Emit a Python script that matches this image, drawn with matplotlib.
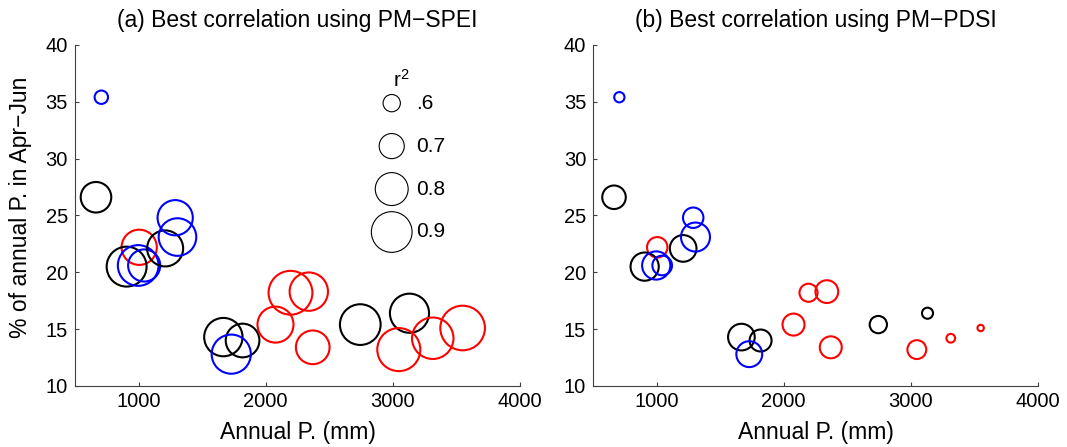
import numpy as np
import matplotlib.pyplot as plt

plt.rcParams['font.family'] = ['Liberation Sans', 'DejaVu Sans']
plt.rcParams['mathtext.fontset'] = 'custom'
plt.rcParams['mathtext.rm'] = 'Liberation Sans'
plt.rcParams['mathtext.it'] = 'Liberation Sans'

# station data: annual precipitation (mm), % of annual P in Apr-Jun
annual_p = [707, 665, 1005, 906, 997, 1044, 1209, 1288, 1306, 1667, 1818, 1729,
            2077, 2195, 2339, 2370, 2744, 3131, 3047, 3314, 3549]
pct_apr_jun = [35.4, 26.6, 22.2, 20.5, 20.6, 20.6, 22.1, 24.8, 23.1, 14.3, 14.0, 12.8,
               15.4, 18.2, 18.3, 13.4, 15.4, 16.4, 13.2, 14.2, 15.1]
colors = ['b', 'k', 'r', 'k', 'b', 'b', 'k', 'b', 'b', 'k', 'k', 'b',
          'r', 'r', 'r', 'r', 'k', 'k', 'r', 'r', 'r']

# best r^2 for each station
r2_spei = [0.55, 0.77, 0.83, 0.89, 0.90, 0.79, 0.84, 0.83, 0.86, 0.87, 0.81, 0.88,
           0.84, 0.94, 0.87, 0.81, 0.90, 0.88, 0.93, 0.91, 0.95]
r2_pdsi = [0.51, 0.68, 0.64, 0.74, 0.74, 0.63, 0.72, 0.64, 0.75, 0.72, 0.66, 0.71,
           0.66, 0.61, 0.67, 0.66, 0.60, 0.52, 0.62, 0.49, 0.46]

legend_r2 = [0.6, 0.7, 0.8, 0.9]
legend_labels = ['.6', '0.7', '0.8', '0.9']

titles = ['(a) Best correlation using PM\u2212SPEI', '(b) Best correlation using PM\u2212PDSI']


def marker_area(r2):
    # circle diameter in pixels grows linearly with r^2
    d_px = 17.3 + 78 * (np.asarray(r2) - 0.6)
    d_pt = d_px * 72 / 100
    return d_pt ** 2


fig = plt.figure(figsize=(10.67, 4.47), dpi=100)
ax1 = fig.add_axes([0.0703, 0.1365, 0.417, 0.763])
ax2 = fig.add_axes([0.5558, 0.1365, 0.417, 0.763])

for ax, r2, title in zip([ax1, ax2], [r2_spei, r2_pdsi], titles):
    ax.scatter(annual_p, pct_apr_jun, s=marker_area(r2), facecolors='none',
               edgecolors=colors, linewidths=1.5)
    ax.set_xlim(500, 4000)
    ax.set_ylim(10, 40)
    ax.set_xticks([1000, 2000, 3000, 4000])
    ax.set_yticks(np.arange(10, 41, 5))
    ax.spines['top'].set_visible(False)
    ax.spines['right'].set_visible(False)
    for sp in ['left', 'bottom']:
        ax.spines[sp].set_color('#404040')
        ax.spines[sp].set_linewidth(0.8)
    ax.tick_params(direction='in', length=3, width=0.8, color='#404040',
                   labelsize=14.5)
    ax.tick_params(axis='x', pad=4.5)
    ax.tick_params(axis='y', pad=5)
    ax.set_title(title, fontsize=16.5, pad=13)
    ax.set_xlabel('Annual P. (mm)', fontsize=16.5, labelpad=7)

ax1.set_ylabel('% of annual P. in Apr\u2212Jun', fontsize=16.5)
ax1.yaxis.set_label_coords(-0.097, 0.525)

# size legend
handles = [ax1.scatter([], [], s=marker_area(v), facecolors='none', edgecolors='k',
                       linewidths=0.8, label=lab)
           for v, lab in zip(legend_r2, legend_labels)]
leg = ax1.legend(handles=handles, loc='upper left',
                 bbox_to_anchor=(0.672, 0.90), frameon=False, scatterpoints=1,
                 fontsize=15, labelspacing=1.15,
                 handlelength=0.3, handletextpad=1.0, borderpad=0.2)
ax1.text(0.715, 0.897, 'r$^2$', transform=ax1.transAxes, fontsize=15,
         ha='left', va='center')

fig.savefig('out.png', dpi=100)
